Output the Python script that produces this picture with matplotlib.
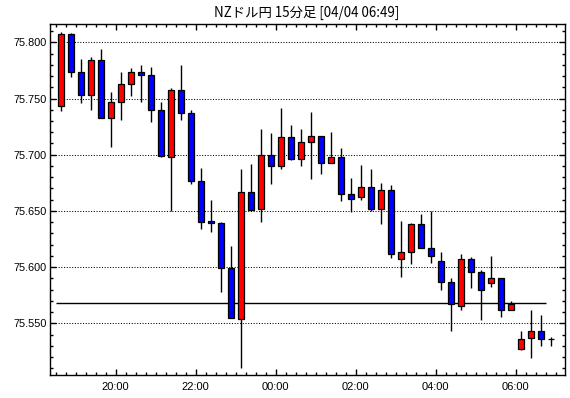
import matplotlib
matplotlib.use("Agg")
import matplotlib.pyplot as plt
from matplotlib.ticker import MultipleLocator

# ---------------- data ----------------
times = ["18:30", "18:45", "19:00", "19:15", "19:30", "19:45", "20:00", "20:15",
         "20:30", "20:45", "21:00", "21:15", "21:30", "21:45", "22:00", "22:15",
         "22:30", "22:45", "23:00", "23:15", "23:30", "23:45", "00:00", "00:15",
         "00:30", "00:45", "01:00", "01:15", "01:30", "01:45", "02:00", "02:15",
         "02:30", "02:45", "03:00", "03:15", "03:30", "03:45", "04:00", "04:15",
         "04:30", "04:45", "05:00", "05:15", "05:30", "05:45", "06:00", "06:15",
         "06:30", "06:45"]
opens = [75.743, 75.807, 75.774, 75.753, 75.784, 75.733, 75.747, 75.763,
         75.774, 75.771, 75.740, 75.698, 75.758, 75.737, 75.677, 75.641,
         75.639, 75.599, 75.554, 75.667, 75.652, 75.700, 75.690, 75.716,
         75.696, 75.711, 75.717, 75.693, 75.698, 75.665, 75.662, 75.671,
         75.652, 75.669, 75.607, 75.613, 75.638, 75.617, 75.605, 75.587,
         75.565, 75.607, 75.596, 75.586, 75.590, 75.562, 75.527, 75.537,
         75.543, 75.536]
highs = [75.809, 75.808, 75.785, 75.787, 75.794, 75.756, 75.774, 75.777,
         75.780, 75.778, 75.747, 75.759, 75.780, 75.740, 75.688, 75.660,
         75.640, 75.619, 75.687, 75.692, 75.723, 75.719, 75.742, 75.726,
         75.723, 75.738, 75.717, 75.720, 75.706, 75.679, 75.691, 75.687,
         75.675, 75.673, 75.641, 75.639, 75.647, 75.650, 75.613, 75.590,
         75.612, 75.609, 75.597, 75.610, 75.590, 75.570, 75.543, 75.562,
         75.557, 75.538]
lows = [75.739, 75.769, 75.746, 75.740, 75.733, 75.707, 75.731, 75.752,
        75.747, 75.729, 75.698, 75.650, 75.731, 75.674, 75.634, 75.631,
        75.578, 75.555, 75.510, 75.650, 75.640, 75.674, 75.687, 75.695,
        75.690, 75.678, 75.683, 75.693, 75.659, 75.649, 75.660, 75.650,
        75.638, 75.608, 75.591, 75.603, 75.617, 75.604, 75.580, 75.543,
        75.562, 75.581, 75.553, 75.582, 75.556, 75.562, 75.526, 75.519,
        75.530, 75.530]
closes = [75.807, 75.774, 75.753, 75.784, 75.733, 75.747, 75.763, 75.774,
          75.771, 75.740, 75.699, 75.758, 75.737, 75.677, 75.640, 75.639,
          75.599, 75.555, 75.667, 75.651, 75.700, 75.690, 75.716, 75.696,
          75.711, 75.717, 75.693, 75.698, 75.665, 75.661, 75.671, 75.652,
          75.669, 75.612, 75.613, 75.638, 75.617, 75.610, 75.587, 75.567,
          75.607, 75.596, 75.580, 75.590, 75.562, 75.567, 75.536, 75.543,
          75.536, 75.536]

ref_level = 75.568
ref_start, ref_end = "18:30", "06:45"
xtick_times = ["20:00", "22:00", "00:00", "02:00", "04:00", "06:00"]
ytick_values = [75.550, 75.600, 75.650, 75.700, 75.750, 75.800]
title = "NZドル円 15分足 [04/04 06:49]"


def to_hours(s):
    h, m = map(int, s.split(":"))
    if h >= 12:
        h -= 24
    return h + m / 60.0


BAR_HOURS = 0.25
x_start = [to_hours(t) for t in times]
x_mid = [x + BAR_HOURS / 2 for x in x_start]

# ---------------- figure ----------------
W, H = 570, 398
fig = plt.figure(figsize=(W / 100, H / 100), dpi=100)
L, R, T, B = 49.5, 564.5, 24.0, 375.0
ax = fig.add_axes([L / W, 1 - B / H, (R - L) / W, (B - T) / H])

ax.set_xlim(-5.65, 7.225)
ax.set_ylim(75.504, 75.8163)

# grid
for y in ytick_values:
    ax.axhline(y, color="black", linewidth=0.75, linestyle=(0, (1, 1.6)), zorder=1)

# reference line
ax.hlines(ref_level, to_hours(ref_start), to_hours(ref_end), color="black",
          linewidth=1.0, zorder=2)

# wicks
ax.vlines(x_mid, lows, highs, color="black", linewidth=1.0, zorder=3)

# bodies
colors = ["#ff0000" if c >= o else "#0000ff" for o, c in zip(opens, closes)]
heights = [c - o for o, c in zip(opens, closes)]
ax.bar(x_mid, heights, bottom=opens, width=0.15, color=colors,
       edgecolor="black", linewidth=0.9, zorder=4)

# ticks
ytick_font = {"family": ["Liberation Sans", "DejaVu Sans"], "size": 7.8}
xtick_font = {"family": ["Liberation Sans", "DejaVu Sans"], "size": 8.0}
ax.set_yticks(ytick_values)
ax.set_yticklabels([f"{v:.3f}" for v in ytick_values], fontdict=ytick_font)
ax.yaxis.set_minor_locator(MultipleLocator(0.01))
ax.set_xticks([to_hours(t) for t in xtick_times])
ax.set_xticklabels(xtick_times, fontdict=xtick_font)
ax.xaxis.set_minor_locator(MultipleLocator(0.25))

ax.tick_params(which="both", direction="in", top=True, right=True,
               color="black", width=1.0)
ax.tick_params(which="major", length=4.0)
ax.tick_params(which="minor", length=2.4)
ax.tick_params(axis="y", which="major", pad=2)
ax.tick_params(axis="x", which="major", pad=5)

for sp in ax.spines.values():
    sp.set_linewidth(1.0)
    sp.set_color("black")

fig.text((L + R) / 2 / W, 1 - 12.5 / H, title, ha="center", va="center",
         fontsize=9.6, family=["Noto Sans CJK JP", "DejaVu Sans"])

fig.savefig("out.png", dpi=100, facecolor="white")
